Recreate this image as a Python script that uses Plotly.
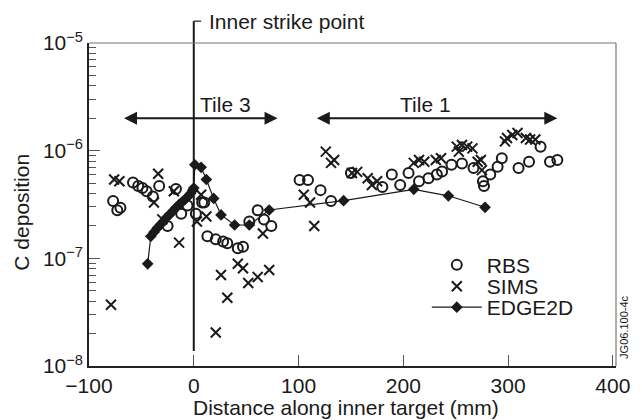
import math
import plotly.graph_objects as go

# ---------------- data ----------------
rbs_x = [-77, -73, -70, -58, -53, -49, -45, -39, -33, -25, -17, -12, -6, 2, 8, 10, 13, 21, 28, 32, 42, 47,
         53, 61, 67, 74, 101, 109, 121, 131, 150, 180, 189, 197, 205, 215, 224, 232, 237, 246, 256,
         267, 276, 277, 283, 290, 294, 310, 320, 331, 340, 347]
rbs_y = [3.4e-7, 2.8e-7, 2.95e-7, 5.05e-7, 4.7e-7, 4.5e-7, 4.2e-7, 3.75e-7, 4.7e-7, 2.0e-7, 4.4e-7, 2.6e-7,
         3.1e-7, 2.6e-7, 3.3e-7, 3.3e-7, 1.6e-7, 1.5e-7, 1.43e-7, 1.38e-7, 1.24e-7, 1.28e-7,
         2.2e-7, 2.8e-7, 2.3e-7, 2.0e-7, 5.35e-7, 5.35e-7, 4.3e-7, 3.4e-7, 6.2e-7, 4.6e-7, 6.0e-7, 4.8e-7,
         6.2e-7, 5.2e-7, 5.55e-7, 6.0e-7, 6.4e-7, 7.4e-7, 7.6e-7,
         6.9e-7, 5.2e-7, 4.7e-7, 6.0e-7, 7.1e-7, 8.5e-7, 6.9e-7, 7.9e-7, 1.09e-6, 7.9e-7, 8.2e-7]

sims_x = [-79, -76, -71, -38, -34, -30, -19, -14, 3, 7, 12, 21, 26, 32, 42, 47, 52, 61, 66, 72,
          105, 111, 115, 126, 131, 134, 151, 156, 166, 170, 175, 210, 215, 220, 231, 236, 251, 253,
          256, 261, 266, 271, 274, 275, 297, 299, 304, 309, 317, 321, 326]
sims_y = [3.7e-8, 5.4e-7, 5.2e-7, 3.3e-7, 6.1e-7, 2.3e-7, 4.2e-7, 1.4e-7, 2.2e-7, 3.9e-7, 2.45e-7,
          2.05e-8, 7.0e-8, 4.3e-8, 8.9e-8, 8.1e-8, 5.9e-8, 6.7e-8, 1.7e-7, 7.8e-8,
          3.9e-7, 3.3e-7, 2.0e-7, 9.8e-7, 7.7e-7, 8.2e-7, 6.2e-7, 6.35e-7, 5.55e-7, 4.8e-7, 5.2e-7,
          7.7e-7, 8.2e-7, 7.9e-7, 8.2e-7, 8.5e-7, 1.09e-6, 9.8e-7,
          1.13e-6, 1.09e-6, 1.05e-6, 7.9e-7, 8.2e-7, 6.6e-7, 1.22e-6, 1.31e-6, 1.40e-6, 1.46e-6,
          1.31e-6, 1.27e-6, 1.27e-6]

edge_x = [-44, -41, -38, -35, -32, -29, -26, -23, -20, -17, -14, -11, -8, -5, -3, -1, 0, 1, 7, 12,
          19, 26, 39, 53, 72, 143, 210, 243, 278]
edge_y = [8.9e-8, 1.6e-7, 1.75e-7, 1.9e-7, 2.05e-7, 2.2e-7, 2.4e-7, 2.55e-7, 2.75e-7, 2.95e-7,
          3.15e-7, 3.35e-7, 3.55e-7, 3.8e-7, 4.0e-7, 4.3e-7, 4.5e-7, 7.4e-7, 7.0e-7, 5.4e-7,
          3.6e-7, 2.53e-7, 2.04e-7, 2.04e-7, 2.81e-7, 3.43e-7, 4.37e-7, 3.81e-7, 2.98e-7]

x_tickvals = [-100, 0, 100, 200, 300, 400]
x_ticktext = ["\u2212100", "0", "100", "200", "300", "400"]
y_tickvals = [1e-8, 1e-7, 1e-6, 1e-5]
y_ticktext = ["10<sup>\u22128</sup>", "10<sup>\u22127</sup>", "10<sup>\u22126</sup>", "10<sup>\u22125</sup>"]

strike_x = 0
strike_ybottom = 1.38e-8
tile3_span = [-68, 80]
tile1_span = [116, 347]
tile3_label_x = 30
tile1_label_x = 221
tile_level = 2.0e-6

FONT = "Liberation Sans, Arial, sans-serif"
INK = "#1a1a1a"
FS = 21

minor_vals = [k * 10 ** e for e in (-8, -7, -6) for k in range(2, 10)]

fig = go.Figure()
fig.add_trace(go.Scatter(x=rbs_x, y=rbs_y, mode="markers", name="RBS", legend="legend",
                         marker=dict(symbol="circle-open", size=10, color=INK, line=dict(width=2, color=INK))))
fig.add_trace(go.Scatter(x=sims_x, y=sims_y, mode="markers", name="SIMS", legend="legend2",
                         marker=dict(symbol="x-thin-open", size=10, color=INK, line=dict(width=2, color=INK))))
fig.add_trace(go.Scatter(x=edge_x, y=edge_y, mode="lines+markers", name="EDGE2D", legend="legend3",
                         line=dict(color=INK, width=1.2),
                         marker=dict(symbol="diamond", size=9, color=INK)))

# strike point line
TOPP = 1.0676
ylog0 = math.log10(strike_ybottom)
paper_bottom = (ylog0 - (-8)) / 3.0
fig.add_shape(type="line", xref="x", yref="paper", x0=strike_x, x1=strike_x, y0=paper_bottom, y1=TOPP,
              line=dict(color=INK, width=2))
fig.add_shape(type="line", xref="x", yref="paper", x0=strike_x, x1=strike_x + 7, y0=TOPP, y1=TOPP,
              line=dict(color=INK, width=1.2))
fig.add_annotation(text="Inner strike point", xref="x", yref="paper", x=strike_x + 13, y=TOPP,
                   xanchor="left", yanchor="middle", showarrow=False, font=dict(family=FONT, size=FS, color=INK))

# tile arrows
ty = math.log10(tile_level)
for span, lx, label in ((tile3_span, tile3_label_x, "Tile 3"), (tile1_span, tile1_label_x, "Tile 1")):
    fig.add_annotation(x=span[1], y=ty, ax=span[0], ay=ty, xref="x", yref="y", axref="x", ayref="y",
                       text="", showarrow=True, arrowhead=2, arrowside="end+start", arrowsize=1.3,
                       arrowwidth=2, arrowcolor=INK)
    fig.add_annotation(x=lx, y=ty, xref="x", yref="y", text=label, showarrow=False,
                       yanchor="bottom", yshift=0, font=dict(family=FONT, size=FS, color=INK))

# axis titles
fig.add_annotation(text="Distance along inner target (mm)", xref="paper", yref="paper", x=0.487, y=-0.128,
                   xanchor="center", yanchor="middle", showarrow=False, font=dict(family=FONT, size=FS, color=INK))
fig.add_annotation(text="C deposition", xref="paper", yref="paper", x=-0.127, y=0.475, textangle=-90,
                   xanchor="center", yanchor="middle", showarrow=False, font=dict(family=FONT, size=FS, color=INK))
fig.add_annotation(text="JG06.100-4c", xref="paper", yref="paper", x=1.0, xshift=8, y=0.118, textangle=-90,
                   xanchor="center", yanchor="middle", showarrow=False, font=dict(family=FONT, size=11, color=INK))

# top / right frame
fig.add_shape(type="line", xref="paper", yref="paper", x0=0, x1=1, y0=1, y1=1, line=dict(color="#777", width=1.2))
fig.add_shape(type="line", xref="paper", yref="paper", x0=1, x1=1, y0=0, y1=1, line=dict(color="#777", width=1.2))

leg_common = dict(x=0.641, xanchor="left", yanchor="middle", bgcolor="rgba(0,0,0,0)", itemwidth=50,
                  font=dict(family=FONT, size=FS, color=INK))
fig.update_layout(
    width=642, height=420,
    margin=dict(l=89, r=24, t=43, b=54),
    paper_bgcolor="white", plot_bgcolor="white",
    font=dict(family=FONT, size=FS, color=INK),
    showlegend=True,
    legend=dict(y=0.312, **leg_common),
    legend2=dict(y=0.246, **leg_common),
    legend3=dict(y=0.181, **leg_common),
    xaxis=dict(range=[-100, 403], tickvals=x_tickvals, ticktext=x_ticktext, ticks="inside", ticklen=11,
               tickwidth=1.2, tickcolor="#555", showgrid=False, zeroline=False, showline=True,
               linecolor="#222", linewidth=1.5, tickfont=dict(family=FONT, size=FS, color=INK)),
    yaxis=dict(type="log", range=[-8, -5], tickvals=y_tickvals, ticktext=y_ticktext, ticks="inside",
               ticklen=11, tickwidth=1.2, tickcolor="#555", showgrid=False, zeroline=False, showline=True,
               linecolor="#222", linewidth=1.5, tickfont=dict(family=FONT, size=FS, color=INK),
               minor=dict(tickvals=minor_vals, ticks="inside", ticklen=7, tickwidth=1, tickcolor="#555",
                          showgrid=False)),
)

fig.write_html("out.html", config={"displayModeBar": False},
               post_script="document.body.style.margin='0';document.body.style.padding='0';")
